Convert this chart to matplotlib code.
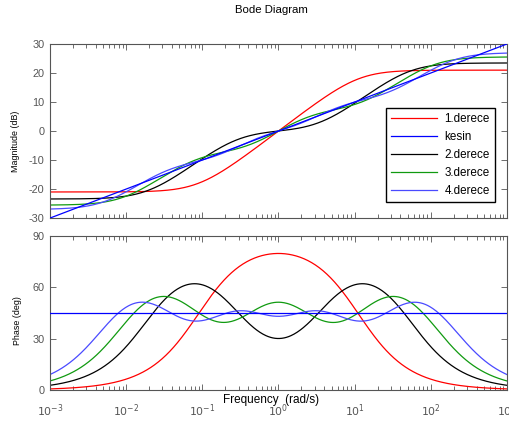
import numpy as np
import matplotlib.pyplot as plt
from matplotlib.ticker import LogLocator, NullFormatter, FixedLocator

# s^0.5 ("kesin") ve yaklaşık transfer fonksiyonları (sıfır / kutup / kazanç)
alfa = 0.5
etiketler = ['1.derece', 'kesin', '2.derece', '3.derece', '4.derece']
renkler = ['#ff0000', '#0000ff', '#000000', '#109a10', '#4a4aff']

sifirlar_1 = [0.0891]
kutuplar_1 = [11.2]
kazanc_1 = 11.2

sifirlar_2 = [0.0195, 3.45]
kutuplar_2 = [0.29, 51.3]
kazanc_2 = 14.9

sifirlar_3 = [0.00965, 0.430, 12.7]
kutuplar_3 = [0.0787, 2.32, 103.6]
kazanc_3 = 18.95

sifirlar_4 = [0.00546, 0.16, 1.81, 28.2]
kutuplar_4 = [0.0355, 0.552, 6.25, 183.0]
kazanc_4 = 22.4

mag_ticks = [-30, -20, -10, 0, 10, 20, 30]
faz_ticks = [0, 30, 60, 90]
frek_ticks = [1e-3, 1e-2, 1e-1, 1e0, 1e1, 1e2, 1e3]
frek_etiket = [r'$10^{-3}$', r'$10^{-2}$', r'$10^{-1}$', r'$10^{0}$',
               r'$10^{1}$', r'$10^{2}$', r'$10^{3}$']

w = np.logspace(-3, 3, 600)


def yanit(sifirlar, kutuplar, kazanc):
    s = 1j * w
    G = kazanc * np.ones_like(s)
    for z in sifirlar:
        G = G * (s + z)
    for p in kutuplar:
        G = G / (s + p)
    return 20 * np.log10(np.abs(G)), np.degrees(np.unwrap(np.angle(G)))


m1, f1 = yanit(sifirlar_1, kutuplar_1, kazanc_1)
m2, f2 = yanit(sifirlar_2, kutuplar_2, kazanc_2)
m3, f3 = yanit(sifirlar_3, kutuplar_3, kazanc_3)
m4, f4 = yanit(sifirlar_4, kutuplar_4, kazanc_4)
mk = 20 * alfa * np.log10(w)
fk = np.full_like(w, alfa * 90)

plt.rcParams['font.family'] = ['Liberation Sans', 'DejaVu Sans']
plt.rcParams['axes.unicode_minus'] = False
fig = plt.figure(figsize=(5.1, 4.21), dpi=100)
ax1 = fig.add_axes([0.098, 0.482, 0.896, 0.4135])
ax2 = fig.add_axes([0.098, 0.0736, 0.896, 0.3658])

mags = [m1, mk, m2, m3, m4]
fazlar = [f1, fk, f2, f3, f4]
for i in range(5):
    z = 3 if etiketler[i] == 'kesin' else 2
    ax1.semilogx(w, mags[i], color=renkler[i], lw=0.9, label=etiketler[i], zorder=z)
    ax2.semilogx(w, fazlar[i], color=renkler[i], lw=0.9, zorder=z)

gri = '#555555'
for ax in (ax1, ax2):
    ax.set_xlim(1e-3, 1e3)
    ax.xaxis.set_major_locator(FixedLocator(frek_ticks))
    ax.xaxis.set_minor_locator(LogLocator(base=10, subs=np.arange(2, 10), numticks=20))
    ax.xaxis.set_minor_formatter(NullFormatter())
    ax.tick_params(which='both', direction='in', top=True, right=True,
                   colors=gri, labelsize=7.8, width=0.6)
    ax.tick_params(which='major', length=4)
    ax.tick_params(which='minor', length=3)
    ax.tick_params(axis='y', pad=4)
    for sp in ax.spines.values():
        sp.set_color(gri)
        sp.set_linewidth(0.8)

ax1.set_ylim(-30, 30)
ax1.set_yticks(mag_ticks)
ax1.tick_params(axis='x', labelbottom=False)
ax2.set_ylim(0, 90)
ax2.set_yticks(faz_ticks)
ax2.set_xticklabels(frek_etiket)
ax2.tick_params(axis='x', pad=9)

leg = ax1.legend(loc='lower right', bbox_to_anchor=(0.974, 0.092), fontsize=8.4,
                 handlelength=4.0, labelspacing=0.5, borderpad=0.45,
                 handletextpad=0.6, borderaxespad=0, fancybox=False, framealpha=1)
leg.get_frame().set_edgecolor('black')
leg.get_frame().set_linewidth(1.0)

fig.text(0.533, 0.976, 'Bode Diagram', ha='center', va='center', fontsize=8.2)
fig.text(0.03, 1 - 141 / 421, 'Magnitude (dB)', rotation=90, ha='center',
         va='center', fontsize=6.4)
fig.text(0.035, 1 - 321 / 421, 'Phase (deg)', rotation=90, ha='center',
         va='center', fontsize=6.4)
fig.text(0.532, 1 - 400 / 421, 'Frequency  (rad/s)', ha='center', va='center',
         fontsize=8.5)

fig.savefig('out.png', dpi=100)
